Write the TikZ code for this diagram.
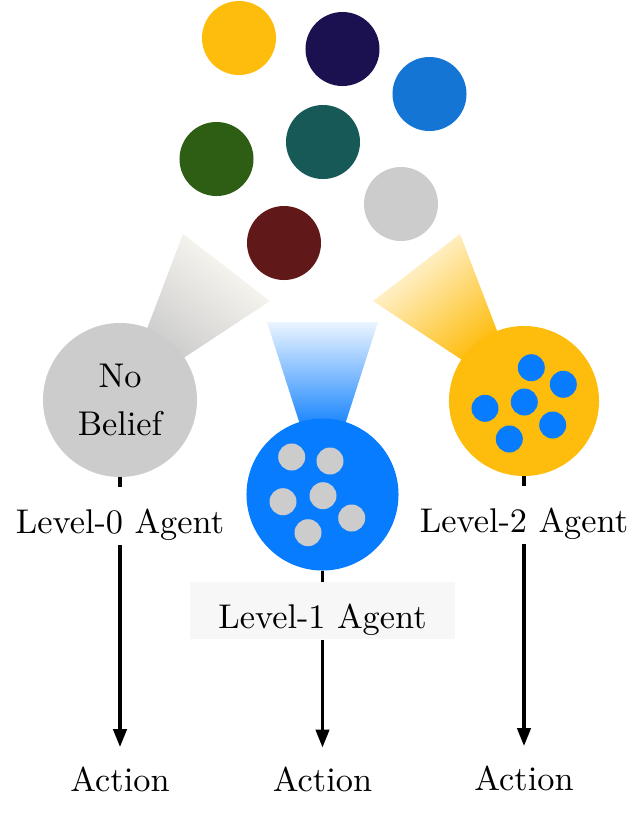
\documentclass[tikz,border=0pt]{standalone}
\usepackage{fontspec}
\setmainfont{lmroman10-regular.otf}[BoldFont=lmroman10-bold.otf, ItalicFont=lmroman10-italic.otf]
\usetikzlibrary{positioning, arrows.meta, calc}
\definecolor{agentBlue}{HTML}{087CFE}
\definecolor{beliefGray}{HTML}{CCCCCC}
\definecolor{ballYellow}{HTML}{FEBC0C}
\definecolor{ballNavy}{HTML}{1B1150}
\definecolor{ballBlue}{HTML}{1475D4}
\definecolor{ballGreen}{HTML}{2D5E14}
\definecolor{ballTeal}{HTML}{165957}
\definecolor{ballMaroon}{HTML}{601818}

\begin{document}
\begin{tikzpicture}[x=0.025cm, y=0.025cm,
      font=\fontsize{24.4}{34}\selectfont,
      ball/.style={circle, minimum size=1.85cm, inner sep=0pt},
      agent/.style={circle, minimum size=3.8cm, inner sep=0pt, align=center},
      lab/.style={inner xsep=0.7cm, inner ysep=0pt, text height=1.15cm, text depth=0.28cm},
      act/.style={inner sep=0pt, text height=1.1cm, text depth=0.25cm},
      wire/.style={line width=2.5pt},
      arr/.style={-{Triangle[length=0.45cm, width=0.33cm]}, line width=2.5pt}]
    \useasboundingbox (0,0) rectangle (640,-824);
    \coordinate (c0) at (120,-400); \coordinate (c1) at (322.5,-494.5); \coordinate (c2) at (524,-401);
    \coordinate (t0a) at (183,-234); \coordinate (t0b) at (270,-301);
    \coordinate (t1a) at (267,-322); \coordinate (t1b) at (378,-322);
    \coordinate (t2a) at (373,-301); \coordinate (t2b) at (460,-234);
    \shade[bottom color=beliefGray, top color=ballYellow!4, shading angle=-39]
      ($(c0)!0.35!(t0a)$) -- (t0a) -- (t0b) -- ($(c0)!0.35!(t0b)$) -- cycle;
    \shade[bottom color=agentBlue, top color=agentBlue!8]
      ($(c1)!0.35!(t1a)$) -- (t1a) -- (t1b) -- ($(c1)!0.35!(t1b)$) -- cycle;
    \shade[bottom color=ballYellow, top color=ballYellow!6, shading angle=40]
      ($(c2)!0.35!(t2a)$) -- (t2a) -- (t2b) -- ($(c2)!0.35!(t2b)$) -- cycle;
    \node[ball, fill=ballYellow] (byellow) at (239,-38) {};
    \node[ball, fill=ballNavy] (bnavy) at (342.5,-49) {};
    \node[ball, fill=ballBlue] (bblue) at (429.5,-94) {};
    \node[ball, fill=ballGreen] (bgreen) at (216.5,-159) {};
    \node[ball, fill=ballTeal] (bteal) at (323,-142) {};
    \node[ball, fill=beliefGray] (bgray) at (401,-204) {};
    \node[ball, fill=ballMaroon] (bmaroon) at (284,-243) {};
    \node[agent, fill=beliefGray, minimum size=3.85cm] (l0) at (c0) {No\\Belief};
    \node[agent, fill=agentBlue] (l1) at (c1) {};
    \node[agent, fill=ballYellow, minimum size=3.75cm] (l2) at (c2) {};
    \fill[beliefGray] (291.7,-457) circle (13.5) (330,-461) circle (13.5) (283,-501.7) circle (13.5)
      (323,-495.7) circle (13.5) (351.7,-518) circle (13.5) (308,-532.7) circle (13.5);
    \fill[agentBlue] (531.3,-367.7) circle (13.5) (563.3,-384.3) circle (13.5) (524.3,-402) circle (13.5)
      (485,-408.3) circle (13.5) (552.7,-425) circle (13.5) (509.3,-439) circle (13.5);
    \node[lab, below=0.25cm of l0] (lab0) {Level-0 Agent};
    \node[lab, fill=black!3, below=0.275cm of l1] (lab1) {Level-1 Agent};
    \node[lab, below=0.25cm of l2] (lab2) {Level-2 Agent};
    \node[act, below=5.05cm of lab0] (act0) {Action};
    \node[act, below=2.7cm of lab1] (act1) {Action};
    \node[act, below=5.05cm of lab2] (act2) {Action};
    \draw[wire] (l0) -- (lab0); \draw[wire] (l1) -- (lab1); \draw[wire] (l2) -- (lab2);
    \draw[arr] (lab0) -- (act0); \draw[arr] (lab1) -- (act1); \draw[arr] (lab2) -- (act2);
  \end{tikzpicture}
\end{document}
